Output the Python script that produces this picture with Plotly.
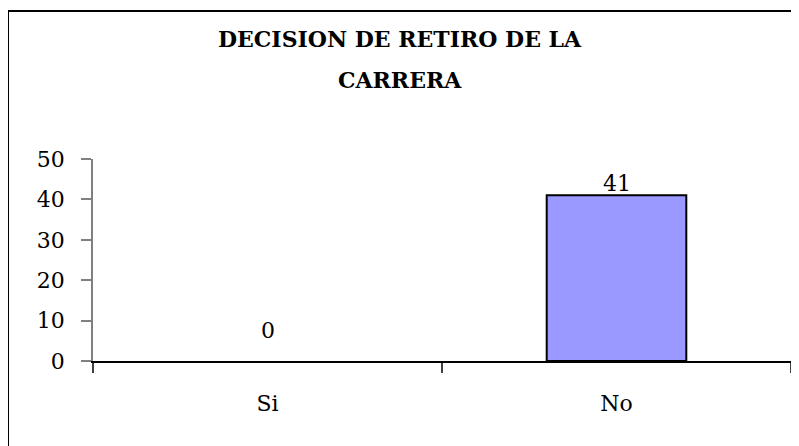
import plotly.graph_objects as go

categories = ["Si", "No"]
values = [0, 41]
title_lines = ["DECISION DE RETIRO DE LA", "CARRERA"]
y_ticks = [0, 10, 20, 30, 40, 50]

FONT = "DejaVu Serif"
OFF = 8  # page body margin offset
W, H = 799 - OFF, 446 - OFF
L, R, T, B = 93 - OFF, 8, 159 - OFF, 85
pw, ph = W - L - R, H - T - B

def px_x(p):
    return (p - OFF - L) / pw

def px_y(p):
    return (H - B - (p - OFF)) / ph

fig = go.Figure()
fig.add_trace(go.Bar(
    x=categories, y=values, width=0.4,
    marker=dict(color="#9999FF",
                line=dict(color="#000000", width=[0 if v == 0 else 2 for v in values])),
    hoverinfo="skip",
))

label_shift = {0: 16, 41: -3}
for c, v in zip(categories, values):
    fig.add_annotation(x=c, y=v, xref="x", yref="y", text=str(v), showarrow=False,
                       yanchor="bottom", yshift=label_shift.get(v, 0),
                       font=dict(family=FONT, size=22, color="#000000"))

title_y = [39.5, 80]
for line, yp in zip(title_lines, title_y):
    fig.add_annotation(x=px_x(399.5), y=px_y(yp), xref="paper", yref="paper",
                       text="<b>" + line + "</b>",
                       showarrow=False, xanchor="center", yanchor="middle",
                       font=dict(family=FONT, size=22, color="#000000"))

fig.add_shape(type="rect", xref="paper", yref="paper",
              x0=px_x(8), x1=px_x(820), y0=px_y(470), y1=px_y(11),
              line=dict(color="#000000", width=2), fillcolor="rgba(0,0,0,0)", layer="above")

fig.update_layout(
    width=W, height=H,
    margin=dict(l=L, r=R, t=T, b=B, pad=0),
    paper_bgcolor="#ffffff", plot_bgcolor="#ffffff",
    showlegend=False,
    font=dict(family=FONT, size=22, color="#000000"),
)
fig.update_xaxes(
    type="category", range=[-0.5, 1.5],
    showline=True, linecolor="#000000", linewidth=1.5,
    ticks="outside", ticklen=10, tickcolor="#404040", tickwidth=1.5,
    tickson="boundaries", showgrid=False, zeroline=False,
    ticklabelstandoff=22,
    tickfont=dict(family=FONT, size=22, color="#000000"),
)
fig.update_yaxes(
    range=[0, 50], tickvals=y_ticks, ticktext=[str(t) for t in y_ticks],
    showline=True, linecolor="#808080", linewidth=1.5,
    ticks="outside", ticklen=10, tickcolor="#808080", tickwidth=1.5,
    showgrid=False, zeroline=False,
    ticklabelstandoff=12,
    tickfont=dict(family=FONT, size=22, color="#000000"),
)

fig.write_html("out.html")
